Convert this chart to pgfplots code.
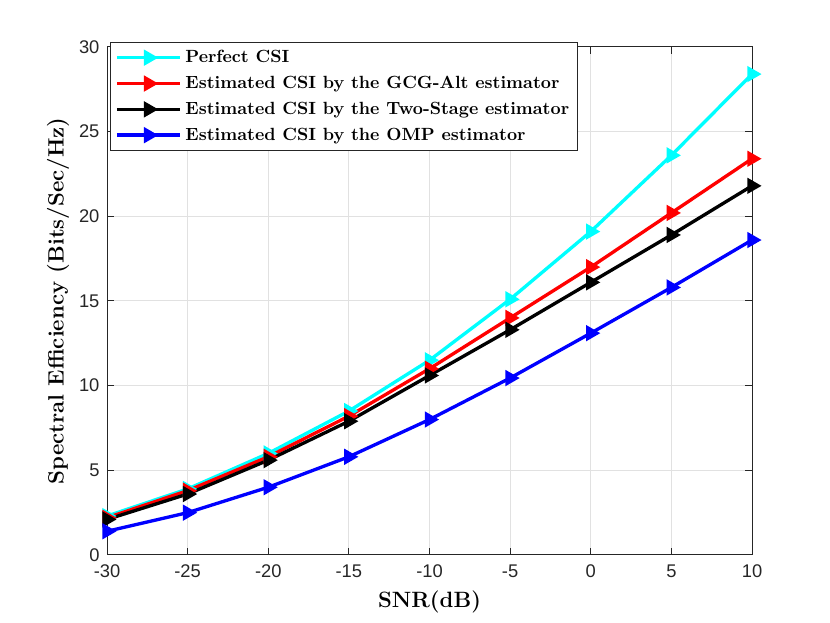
\documentclass[border=0pt]{standalone}
\usepackage{fontspec}
\newfontfamily\arialfont{Liberation Sans}
\usepackage{pgfplots}
\pgfplotsset{compat=1.18}
\definecolor{gridgray}{RGB}{225,225,225}
\definecolor{axgray}{RGB}{38,38,38}
\definecolor{mcyan}{RGB}{0,255,255}
\definecolor{mred}{RGB}{255,0,0}
\definecolor{mblue}{RGB}{0,0,255}
\begin{document}
\begin{tikzpicture}
\useasboundingbox (0,0) rectangle (498pt,373.8pt);
\begin{axis}[
  at={(64.2pt,40.8pt)}, anchor=south west,
  scale only axis, width=387pt, height=304.8pt,
  xmin=-30, xmax=10, ymin=0, ymax=30,
  xtick={-30,-25,...,10}, ytick={0,5,...,30},
  grid=major, major grid style={gridgray, line width=0.6pt},
  axis line style={axgray, line width=0.6pt},
  tick style={axgray, line width=0.6pt},
  tick align=inside, major tick length=4pt,
  xticklabel style={font=\arialfont\fontsize{11}{13}\selectfont, text=axgray, yshift=-2.5pt},
  yticklabel style={font=\arialfont\fontsize{11}{13}\selectfont, text=axgray, xshift=-1pt},
  /pgf/number format/assume math mode=true,
  xlabel={SNR(dB)}, ylabel={Spectral Efficiency (Bits/Sec/Hz)},
  xlabel style={font=\bfseries\fontsize{13.3}{15}\selectfont, yshift=-1pt},
  ylabel style={font=\bfseries\fontsize{13.3}{15}\selectfont, yshift=-1pt},
  legend style={at={(rel axis cs:0.005,1.01)}, anchor=north west, draw=axgray, line width=0.6pt,
    font=\bfseries\fontsize{10.6}{12.5}\selectfont, row sep=2.6pt, inner sep=2.7pt, cells={anchor=west}},
  legend image code/.code={\draw[mark repeat=2,mark phase=2] plot coordinates {(0cm,0cm) (0.67cm,0cm) (1.34cm,0cm)};},
  every axis plot/.append style={line width=2pt, mark=triangle*, mark size=3.7pt},
]
\addplot[mcyan, mark options={fill=mcyan, draw=mcyan, rotate=-90, solid}] coordinates {(-30,2.3) (-25,3.9) (-20,6.0) (-15,8.5) (-10,11.5) (-5,15.1) (0,19.1) (5,23.6) (10,28.4)};
\addlegendentry{Perfect CSI}
\addplot[mred, mark options={fill=mred, draw=mred, rotate=-90, solid}] coordinates {(-30,2.2) (-25,3.8) (-20,5.8) (-15,8.2) (-10,11.0) (-5,14.0) (0,17.0) (5,20.2) (10,23.4)};
\addlegendentry{Estimated CSI by the GCG-Alt estimator}
\addplot[black, mark options={fill=black, draw=black, rotate=-90, solid}] coordinates {(-30,2.1) (-25,3.6) (-20,5.6) (-15,7.9) (-10,10.6) (-5,13.3) (0,16.1) (5,18.9) (10,21.8)};
\addlegendentry{Estimated CSI by the Two-Stage estimator}
\addplot[mblue, mark options={fill=mblue, draw=mblue, rotate=-90, solid}] coordinates {(-30,1.4) (-25,2.5) (-20,4.0) (-15,5.8) (-10,8.0) (-5,10.45) (0,13.1) (5,15.8) (10,18.6)};
\addlegendentry{Estimated CSI by the OMP estimator}
\end{axis}
\end{tikzpicture}
\end{document}
